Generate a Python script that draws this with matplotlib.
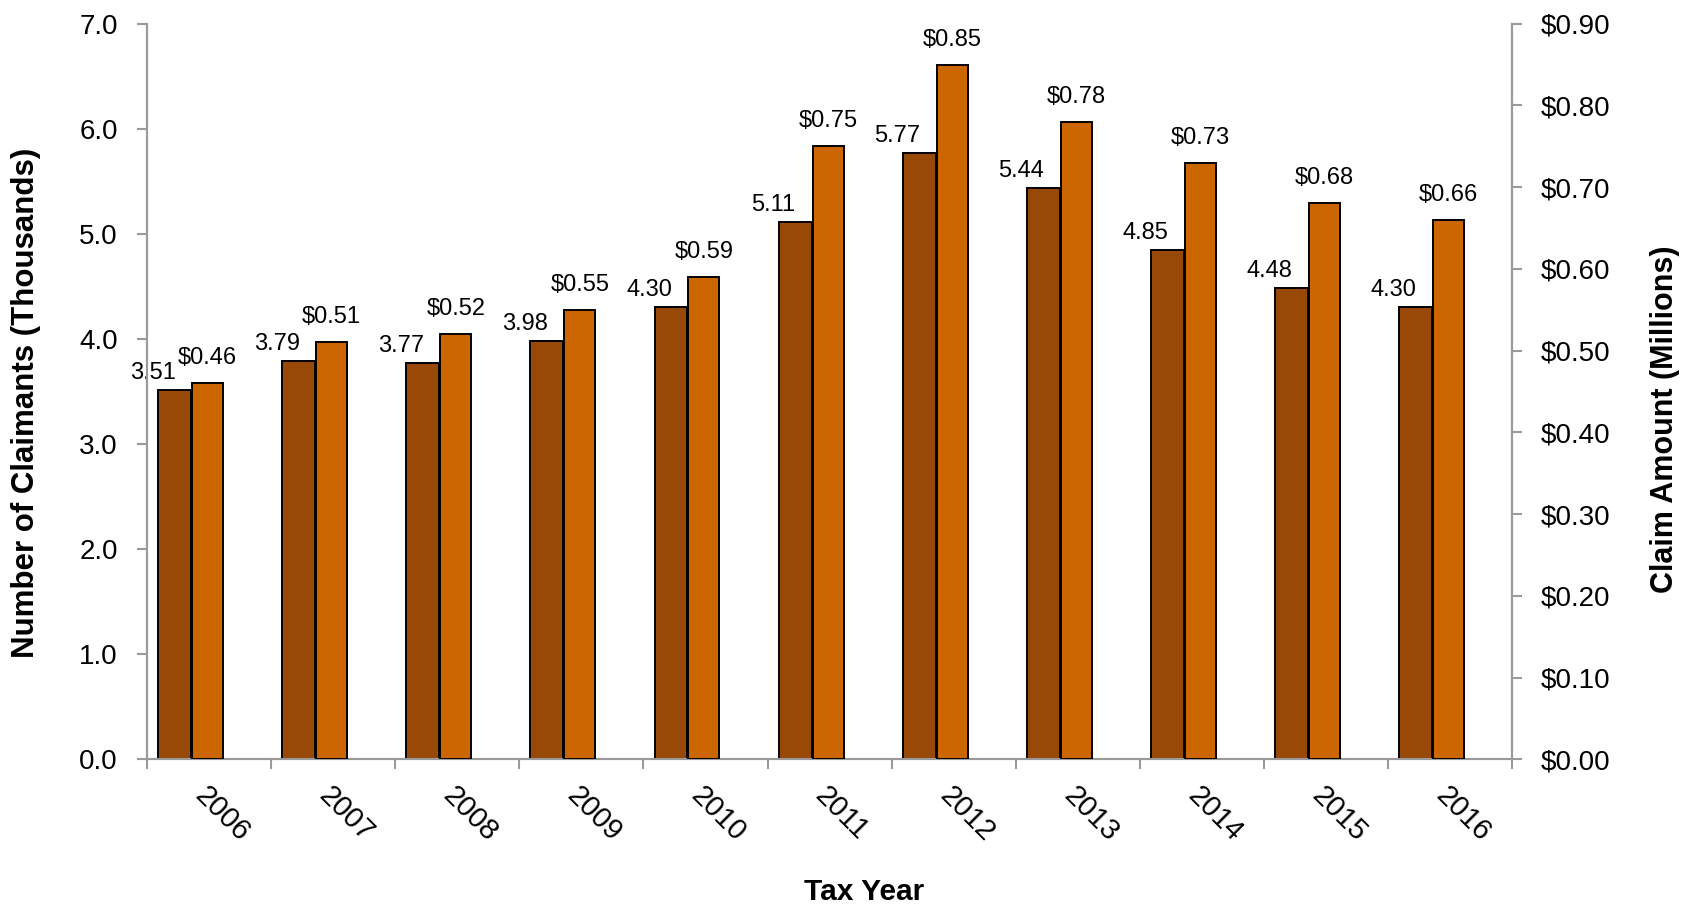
import matplotlib
matplotlib.use("Agg")
import matplotlib.pyplot as plt
import numpy as np
from matplotlib.ticker import FuncFormatter

plt.rcParams['font.family'] = ['Liberation Sans', 'DejaVu Sans']

years = ["2006", "2007", "2008", "2009", "2010", "2011", "2012", "2013", "2014", "2015", "2016"]
claimants = [3.51, 3.79, 3.77, 3.98, 4.30, 5.11, 5.77, 5.44, 4.85, 4.48, 4.30]   # thousands
amounts = [0.46, 0.51, 0.52, 0.55, 0.59, 0.75, 0.85, 0.78, 0.73, 0.68, 0.66]     # $ millions

dark = "#984807"
orange = "#CC6600"
axis_gray = "#9A9A9A"

fig = plt.figure(figsize=(16.94, 9.10), dpi=100)
ax = fig.add_axes([0.0868, 0.1656, 0.8058, 0.8084])
ax2 = ax.twinx()

idx = np.arange(len(years))
ax.bar(idx + 0.09, claimants, width=0.265, align='edge', color=dark,
       edgecolor='black', linewidth=1.4, zorder=3)
ax2.bar(idx + 0.363, amounts, width=0.25, align='edge', color=orange,
        edgecolor='black', linewidth=1.4, zorder=3)

ax.set_xlim(0, len(years))
ax.set_ylim(0, 7.0)
ax2.set_ylim(0, 0.90)
ax.set_yticks(np.arange(0, 7.01, 1.0))
ax2.set_yticks(np.arange(0, 0.901, 0.10))
ax.yaxis.set_major_formatter(FuncFormatter(lambda v, p: f"{v:.1f}"))
ax2.yaxis.set_major_formatter(FuncFormatter(lambda v, p: f"${v:.2f}"))

# category boundaries as major ticks, labels on minor ticks at centres
ax.set_xticks(np.arange(0, len(years) + 1))
ax.set_xticklabels([])
ax.set_xticks(idx + 0.5, minor=True)
ax.set_xticklabels(years, minor=True, rotation=-45, ha='left', va='top',
                   rotation_mode='anchor', fontsize=21)
ax.tick_params(axis='x', which='major', length=7, width=1.5, color=axis_gray, direction='out')
ax.tick_params(axis='x', which='minor', length=0, pad=16)
ax.tick_params(axis='y', length=7, width=1.5, color=axis_gray, labelsize=20, pad=14)
ax2.tick_params(axis='y', length=7, width=1.5, color=axis_gray, labelsize=20, pad=14)

for a in (ax, ax2):
    a.spines['top'].set_visible(False)
    for s in ('left', 'right', 'bottom'):
        a.spines[s].set_color(axis_gray)
        a.spines[s].set_linewidth(1.5)

ax.set_xlabel("Tax Year", fontsize=21.5, fontweight='bold', va='center')
ax.xaxis.set_label_coords(0.525, -0.180)
ax.set_ylabel("Number of Claimants (Thousands)", fontsize=22.5, fontweight='bold', va='center')
ax.yaxis.set_label_coords(-0.0885, 0.484)
ax2.set_ylabel("Claim Amount (Millions)", fontsize=22, fontweight='bold', va='center', rotation=90)
ax2.yaxis.set_label_coords(1.112, 0.462)

for i, v in enumerate(claimants):
    ax.annotate(f"{v:.2f}", xy=(i + 0.09 + 0.1325, v), xytext=(-22, 6),
                textcoords='offset pixels', ha='center', va='bottom', fontsize=17)
for i, v in enumerate(amounts):
    ax2.annotate(f"${v:.2f}", xy=(i + 0.363 + 0.125, v), xytext=(0, 14),
                 textcoords='offset pixels', ha='center', va='bottom', fontsize=17)

fig.savefig("out.png", dpi=100)
